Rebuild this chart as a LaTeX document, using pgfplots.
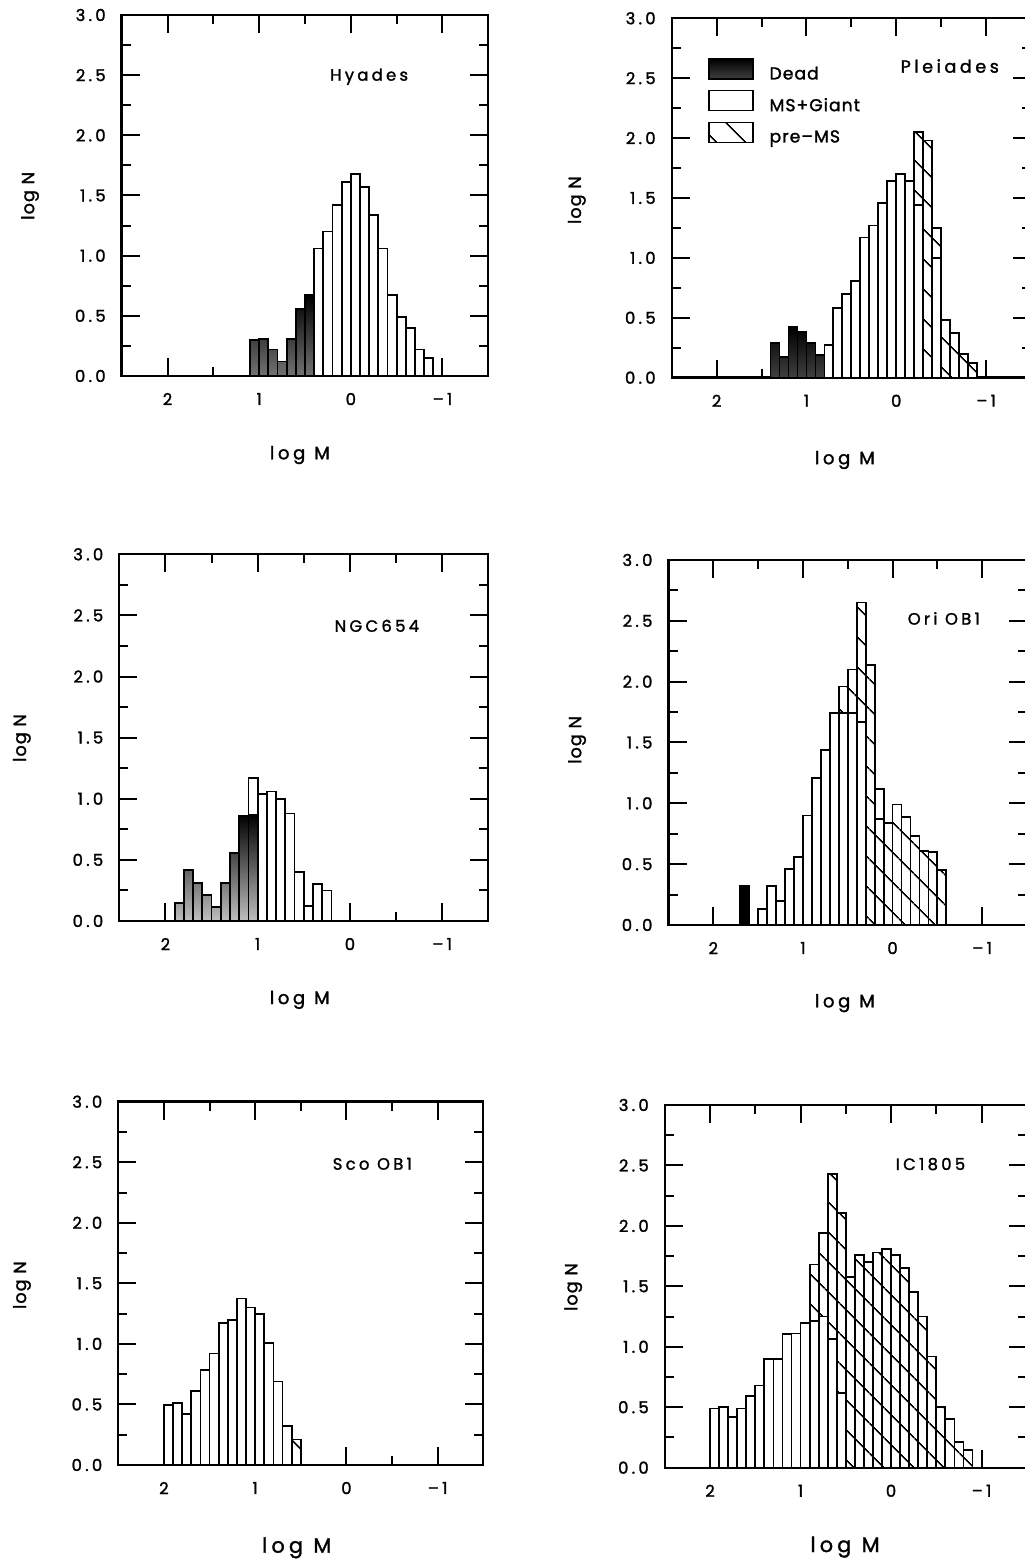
\documentclass[border=0pt]{standalone}
\usepackage{fontspec}
\usepackage{pgfplots}
\pgfplotsset{compat=1.18}
\usetikzlibrary{patterns.meta}
\setmainfont{Poppins}
\newfontfamily\pop{Poppins}[LetterSpace=20,FakeBold=1.6]
\newfontfamily\popn{Poppins}[LetterSpace=6,FakeBold=1.6]
\newcommand\tickfont{\pop\fontsize{8.2}{9}\selectfont}
\newcommand\labfont{\pop\fontsize{9}{10}\selectfont}
\newcommand\biglabfont{\pop\fontsize{10.4}{12}\selectfont}
\newcommand\ylabfont{\popn\fontsize{8.8}{10}\selectfont}
\newcommand\namefont{\pop\fontsize{8.2}{10}\selectfont}
\newcommand\legfont{\popn\fontsize{8.6}{10}\selectfont}
\tikzset{hatch/.style={postaction={pattern={Lines[angle=-45,distance=10.5pt,line width=0.8pt]}}}}
\pgfplotsset{
  panel/.style={
    scale only axis, anchor=south west,
    x dir=reverse, xmin=-1.5, xmax=2.5, ymin=0, ymax=3,
    xtick={2,1,0,-1}, xticklabels={2,1,0,–1},
    minor xtick={1.5,0.5,-0.5},
    ytick={0,0.5,1,1.5,2,2.5,3}, yticklabels={0.0,0.5,1.0,1.5,2.0,2.5,3.0},
    minor ytick={0.25,0.75,1.25,1.75,2.25,2.75},
    tick align=inside, major tick length=9pt, minor tick length=4.5pt,
    tick style={black, line width=1pt},
    axis line style={line width=1.2pt},
    ticklabel style={font=\tickfont},
    xticklabel style={yshift=-5pt},
    yticklabel style={xshift=-4.5pt},
    x label style={font=\labfont, anchor=center},
    y label style={font=\ylabfont, anchor=center},
  },
  bars/.style={ybar, bar width=0.1, bar shift=0pt, draw=black, line width=0.9pt, forget plot},
  white bars/.style={bars, fill=white},
  hatch bars/.style={bars, fill=white, hatch},
}
\begin{document}
\begin{tikzpicture}
% ---------------- Hyades (top left)
\begin{axis}[panel, at={(60.85pt,594pt)}, width=183.3pt, height=180.5pt,
  xlabel={log\hspace{0.5em}M}, ylabel={log N},
  xlabel style={at={(axis description cs:0.486,-0.219)}},
  ylabel style={at={(axis description cs:-0.25,0.499)}}]
\addplot[white bars] coordinates {(0.35,1.06) (0.25,1.20) (0.15,1.42) (0.05,1.61) (-0.05,1.68) (-0.15,1.57) (-0.25,1.34) (-0.35,1.06) (-0.45,0.67) (-0.55,0.49) (-0.65,0.40) (-0.75,0.22) (-0.85,0.15)};
\addplot[bars, top color=black, bottom color=black!55] coordinates {(1.05,0.30) (0.95,0.31) (0.85,0.22) (0.75,0.12) (0.65,0.31) (0.55,0.56) (0.45,0.67)};
\node[font=\namefont] at (axis description cs:0.675,0.829) {Hyades};
\end{axis}
% ---------------- Pleiades (top right)
\begin{axis}[panel, at={(335.85pt,593.15pt)}, width=179.65pt, height=179.7pt,
  xlabel={log\hspace{0.5em}M}, ylabel={log N},
  xlabel style={at={(axis description cs:0.482,-0.229)}},
  ylabel style={at={(axis description cs:-0.264,0.494)}},
  legend image code/.code={\draw[#1] (0pt,-2.2pt) rectangle (22pt,7.8pt);},
  legend style={draw=none, fill=none, at={(0.101,0.8896)}, anchor=north west, inner sep=0pt, row sep=3.75pt, column sep=8pt, nodes={inner sep=0pt, font=\legfont}},
  legend cell align=left]
\addplot[hatch bars] coordinates {(-0.25,2.05) (-0.35,1.98) (-0.45,1.25) (-0.55,0.48) (-0.65,0.37) (-0.75,0.20) (-0.85,0.12)};
\addplot[white bars] coordinates {(0.75,0.27) (0.65,0.58) (0.55,0.70) (0.45,0.81) (0.35,1.17) (0.25,1.27) (0.15,1.46) (0.05,1.64) (-0.05,1.70) (-0.15,1.64) (-0.25,1.44) (-0.45,1.00)};
\addplot[bars, top color=black, bottom color=black!75] coordinates {(1.35,0.29) (1.25,0.17) (1.15,0.42) (1.05,0.38) (0.95,0.29) (0.85,0.19)};
\addlegendimage{top color=black, bottom color=black!75, draw=black, line width=0.6pt}
\addlegendentry{Dead}
\addlegendimage{fill=white, draw=black, line width=0.6pt}
\addlegendentry{MS+Giant}
\addlegendimage{fill=white, draw=black, line width=0.6pt, hatch}
\addlegendentry{pre–MS}
\node[font=\namefont\fontsize{8.8}{10}\selectfont] at (axis description cs:0.774,0.867) {Pleiades};
\end{axis}
% ---------------- NGC654 (middle left)
\begin{axis}[panel, at={(59.65pt,321.5pt)}, width=184.5pt, height=183.35pt,
  xlabel={log\hspace{0.5em}M}, ylabel={log N},
  xlabel style={at={(axis description cs:0.489,-0.215)}},
  ylabel style={at={(axis description cs:-0.264,0.499)}}]
\addplot[white bars] coordinates {(1.05,1.17) (0.95,1.04) (0.85,1.06) (0.75,1.00) (0.65,0.88) (0.55,0.40) (0.45,0.12) (0.35,0.30) (0.25,0.25)};
\addplot[bars, top color=black, bottom color=black!25] coordinates {(1.85,0.145) (1.75,0.42) (1.65,0.31) (1.55,0.21) (1.45,0.115) (1.35,0.31) (1.25,0.555) (1.15,0.86) (1.05,0.87)};
\node[font=\namefont] at (axis description cs:0.698,0.805) {NGC654};
\end{axis}
% ---------------- Ori OB1 (middle right)
\begin{axis}[panel, at={(334.25pt,319.5pt)}, width=179.25pt, height=182.5pt,
  xlabel={log\hspace{0.5em}M}, ylabel={log N},
  xlabel style={at={(axis description cs:0.492,-0.214)}},
  ylabel style={at={(axis description cs:-0.255,0.507)}}]
\addplot[white bars] coordinates {(0.15,1.12)};
\addplot[hatch bars] coordinates {(0.55,1.96) (0.45,2.10) (0.35,2.65) (0.25,2.14) (0.15,0.87) (0.05,0.84) (-0.05,0.99) (-0.15,0.89) (-0.25,0.73) (-0.35,0.61) (-0.45,0.60) (-0.55,0.45)};
\addplot[white bars] coordinates {(1.45,0.13) (1.35,0.32) (1.25,0.20) (1.15,0.46) (1.05,0.56) (0.95,0.90) (0.85,1.21) (0.75,1.44) (0.65,1.74) (0.55,1.74) (0.45,1.74) (0.35,1.67)};
\addplot[bars, fill=black] coordinates {(1.65,0.32)};
\node[font=\namefont] at (axis description cs:0.768,0.840) {Ori OB1};
\end{axis}
% ---------------- Sco OB1 (bottom left)
\begin{axis}[panel, at={(59.15pt,49.5pt)}, width=182.5pt, height=181.65pt,
  xlabel={log\hspace{0.5em}M}, ylabel={log N},
  x label style={font=\biglabfont},
  xlabel style={at={(axis description cs:0.489,-0.228)}},
  ylabel style={at={(axis description cs:-0.264,0.495)}}]
\addplot[hatch bars] coordinates {(0.55,0.21)};
\addplot[white bars] coordinates {(1.95,0.495) (1.85,0.51) (1.75,0.42) (1.65,0.61) (1.55,0.785) (1.45,0.92) (1.35,1.175) (1.25,1.20) (1.15,1.375) (1.05,1.30) (0.95,1.25) (0.85,1.01) (0.75,0.69) (0.65,0.32)};
\node[font=\namefont] at (axis description cs:0.696,0.829) {Sco OB1};
\end{axis}
% ---------------- IC1805 (bottom right)
\begin{axis}[panel, at={(332.4pt,48.15pt)}, width=181pt, height=181.35pt,
  xlabel={log\hspace{0.5em}M}, ylabel={log N},
  x label style={font=\biglabfont},
  xlabel style={at={(axis description cs:0.498,-0.219)}},
  ylabel style={at={(axis description cs:-0.253,0.498)}}]
\addplot[hatch bars] coordinates {(0.85,1.68) (0.75,1.94) (0.65,2.43) (0.55,2.11) (0.45,1.58) (0.35,1.76) (0.25,1.70) (0.15,1.78) (0.05,1.81) (-0.05,1.76) (-0.15,1.65) (-0.25,1.45) (-0.35,1.25) (-0.45,0.92) (-0.55,0.50) (-0.65,0.40) (-0.75,0.215) (-0.85,0.146)};
\addplot[white bars] coordinates {(1.95,0.49) (1.85,0.505) (1.75,0.42) (1.65,0.49) (1.55,0.59) (1.45,0.68) (1.35,0.90) (1.25,0.90) (1.15,1.105) (1.05,1.11) (0.95,1.20) (0.85,1.215) (0.75,1.25) (0.65,1.065) (0.55,0.615)};
\node[font=\namefont] at (axis description cs:0.734,0.837) {IC1805};
\end{axis}
\pgfresetboundingbox
\path[use as bounding box] (0,0) rectangle (512pt,782pt);
\end{tikzpicture}
\end{document}
